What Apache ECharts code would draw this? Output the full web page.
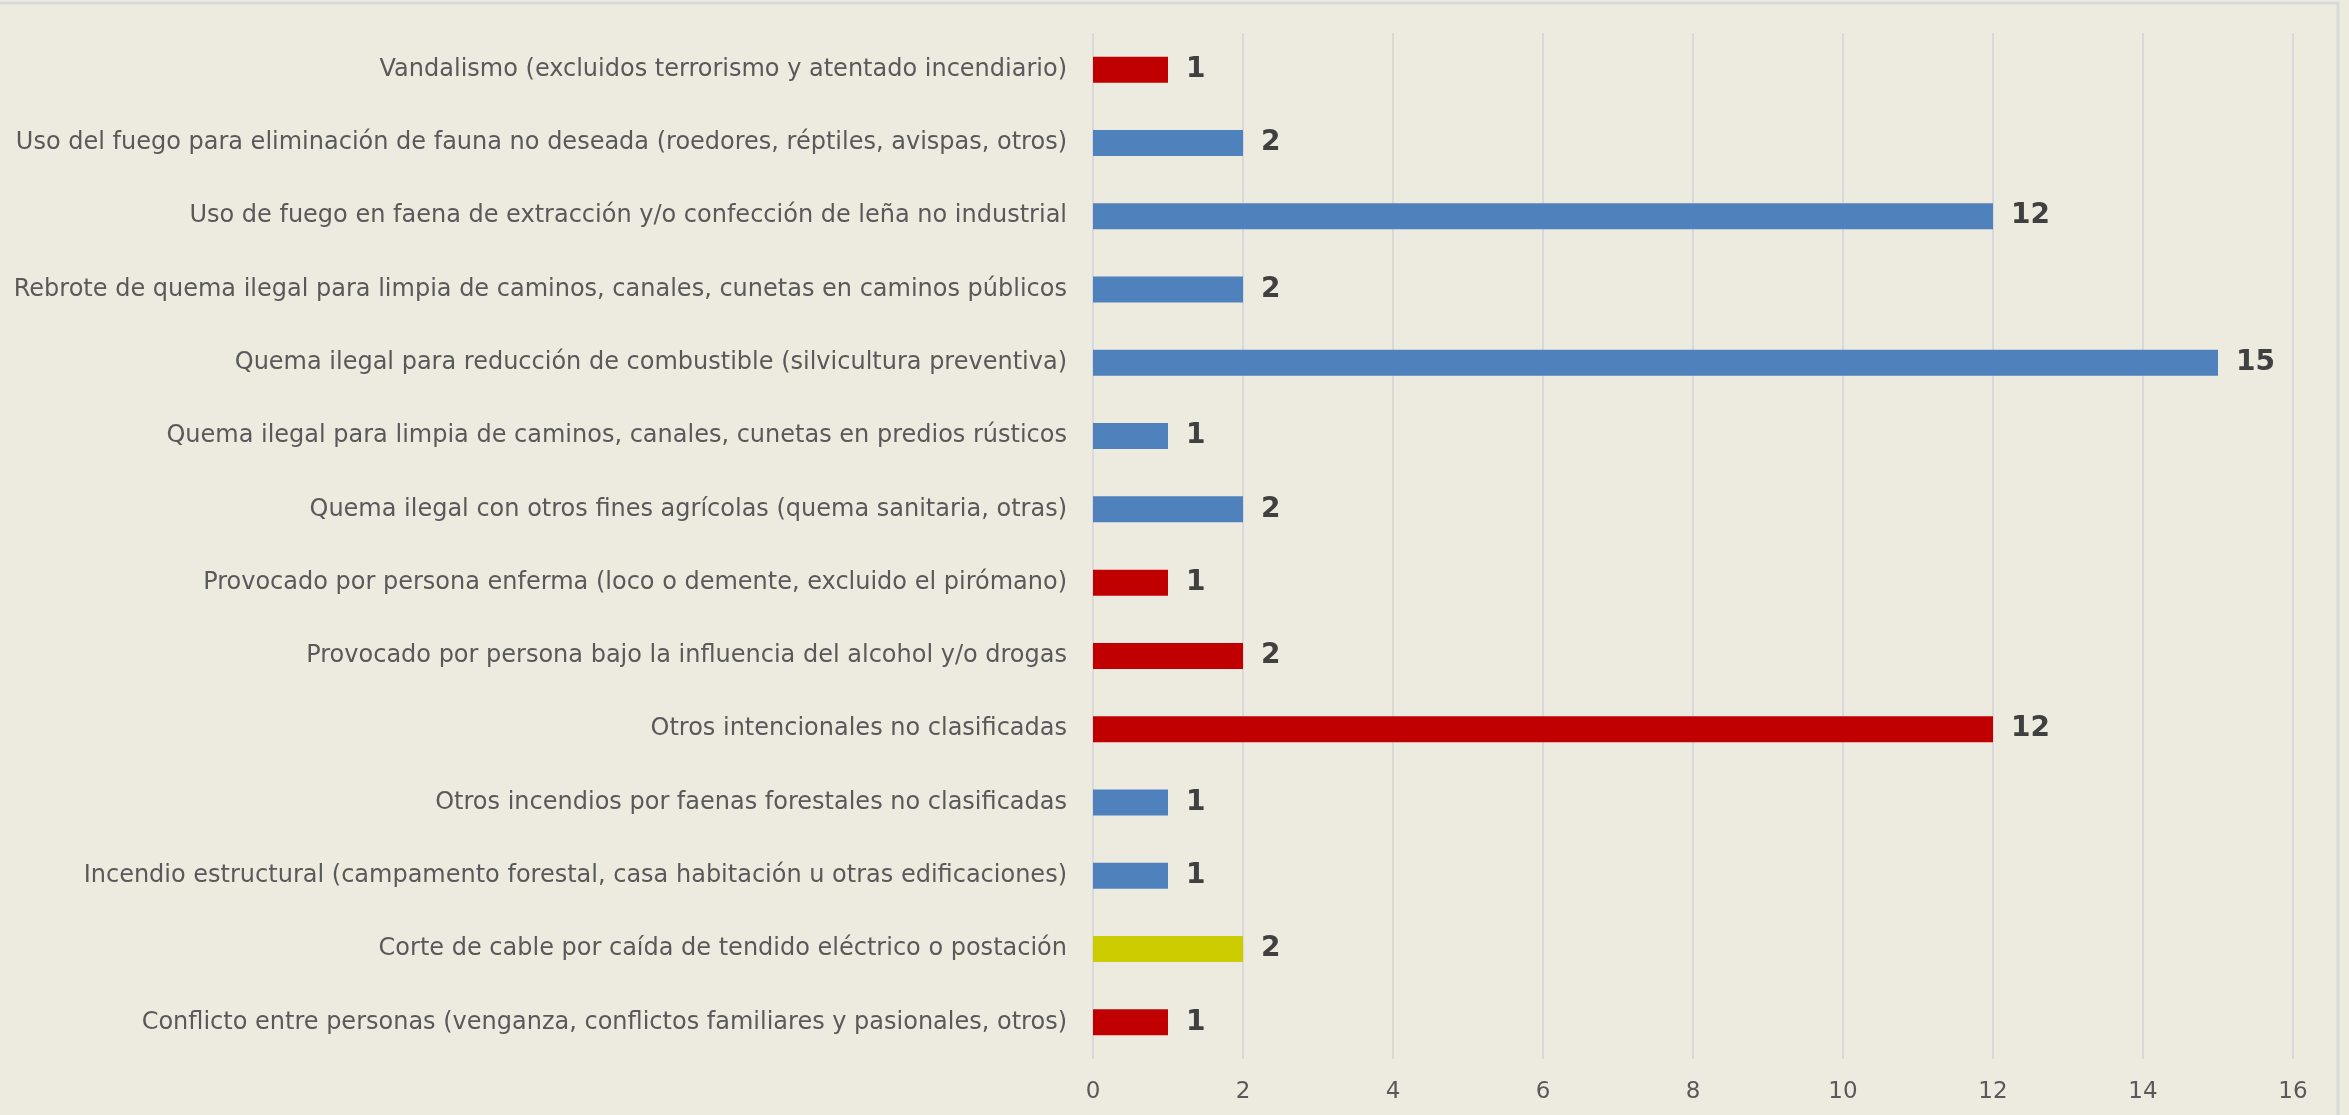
<!DOCTYPE html>
<html>
<head>
<meta charset="utf-8">
<script src="https://cdn.jsdelivr.net/npm/echarts@6/dist/echarts.min.js"></script>
<style>
  html, body { margin: 0; padding: 0; background: #EDEBE0; }
  #chart { width: 2349px; height: 1115px; }
</style>
</head>
<body>
<div id="chart"></div>
<script>
// Causes of forest fires, listed top to bottom
const categories = [
  'Vandalismo (excluidos terrorismo y atentado incendiario)',
  'Uso del fuego para eliminación de fauna no deseada (roedores, réptiles, avispas, otros)',
  'Uso de fuego en faena de extracción y/o confección de leña no industrial',
  'Rebrote de quema ilegal para limpia de caminos, canales, cunetas en caminos públicos',
  'Quema ilegal para reducción de combustible (silvicultura preventiva)',
  'Quema ilegal para limpia de caminos, canales, cunetas en predios rústicos',
  'Quema ilegal con otros fines agrícolas (quema sanitaria, otras)',
  'Provocado por persona enferma (loco o demente, excluido el pirómano)',
  'Provocado por persona bajo la influencia del alcohol y/o drogas',
  'Otros intencionales no clasificadas',
  'Otros incendios por faenas forestales no clasificadas',
  'Incendio estructural (campamento forestal, casa habitación u otras edificaciones)',
  'Corte de cable por caída de tendido eléctrico o postación',
  'Conflicto entre personas (venganza, conflictos familiares y pasionales, otros)'
];
const counts = [1, 2, 12, 2, 15, 1, 2, 1, 2, 12, 1, 1, 2, 1];
// cause group of each bar: intentional, activities, electrical
const groups = ['int', 'act', 'act', 'act', 'act', 'act', 'act', 'int', 'int', 'int', 'act', 'act', 'ele', 'int'];
const xTicks = [0, 2, 4, 6, 8, 10, 12, 14, 16];

const groupColor = { int: '#C00000', act: '#4F81BD', ele: '#CCCC00' };

const chart = echarts.init(document.getElementById('chart'), null, { renderer: 'canvas' });
chart.setOption({
  backgroundColor: '#EDEBE0',
  animation: false,
  textStyle: { fontFamily: 'DejaVu Sans' },
  graphic: [{
    type: 'rect',
    silent: true,
    shape: { x: -10, y: 3, width: 2348, height: 1200 },
    style: { fill: null, stroke: '#D9D9D9', lineWidth: 3 }
  }],
  grid: { left: 1093, right: 56, top: 33, bottom: 56, containLabel: false },
  xAxis: {
    type: 'value',
    min: xTicks[0],
    max: xTicks[xTicks.length - 1],
    interval: xTicks[1] - xTicks[0],
    axisLine: { show: false },
    axisTick: { show: false },
    splitLine: { show: true, lineStyle: { color: '#D9D9D9', width: 2 } },
    axisLabel: { color: '#595959', fontSize: 23, margin: 22, fontFamily: 'DejaVu Sans' }
  },
  yAxis: {
    type: 'category',
    inverse: true,
    data: categories,
    axisLine: { show: false },
    axisTick: { show: false },
    axisLabel: { color: '#595959', fontSize: 24, margin: 26, fontFamily: 'DejaVu Sans' }
  },
  series: [{
    type: 'bar',
    barWidth: 26,
    data: counts.map((v, i) => ({ value: v, itemStyle: { color: groupColor[groups[i]] } })),
    label: {
      show: true,
      position: 'right',
      distance: 18,
      color: '#404040',
      fontWeight: 'bold',
      fontSize: 28,
      fontFamily: 'DejaVu Sans'
    }
  }]
});
</script>
</body>
</html>
